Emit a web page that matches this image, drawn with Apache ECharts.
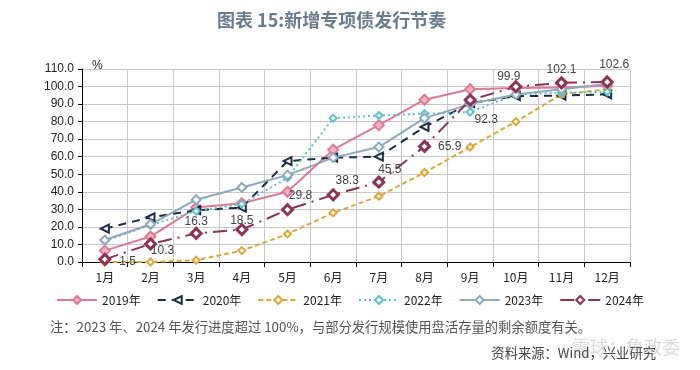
<!DOCTYPE html>
<html><head><meta charset="utf-8">
<script src="https://cdn.jsdelivr.net/npm/echarts@6/dist/echarts.min.js"></script>
<style>html,body{margin:0;padding:0;background:#fff;}#c{width:700px;height:370px;}</style>
</head><body><div id="c"></div>
<script>
const categories = ['1月','2月','3月','4月','5月','6月','7月','8月','9月','10月','11月','12月'];
const s2019 = [6.5, 14.5, 31, 33.5, 40, 64, 78, 92.5, 98.5, 99.2, 99.5, 100.5];
const s2020 = [19, 25.5, 29.5, 31, 57.5, 59.5, 60, 77, 90.5, 94.5, 94.8, 95.6];
const s2021 = [0, 0, 1, 6.5, 16, 28, 37.5, 51, 65.5, 80, 95.5, 98.5];
const s2022 = [12, 21, 29, 33, 48, 82, 83.5, 84.5, 85.5, 95.5, 96.5, 97];
const s2023 = [12.5, 21.5, 35.5, 42.5, 49.5, 59.5, 65.5, 82, 90, 95.5, 98.5, 101.5];
const s2024 = [1.5, 10.3, 16.3, 18.5, 29.8, 38.3, 45.5, 65.9, 92.3, 99.9, 102.1, 102.6];
const yTicks = ['0.0','10.0','20.0','30.0','40.0','50.0','60.0','70.0','80.0','90.0','100.0','110.0'];
const noteText = '注：2023 年、2024 年发行进度超过 100%，与部分发行规模使用盘活存量的剩余额度有关。';
const sourceText = '资料来源：Wind，兴业研究';

// label placement styles for 2024 series (style only)
const labelPos = ['right','bottom','top','top','top','top','top','right','bottom','top','top','top'];
const labelOff = [[8,2],[12,-6],[0,1],[0,4],[13,-2],[14,-2],[11,0],[7,0],[16,7],[-7,2],[0,-1],[7,-5]];

const chart = echarts.init(document.getElementById('c'), null, {renderer:'canvas'});
const F = 'Liberation Sans, Arial, sans-serif';
function mk(name, data, color, lineType, symbol, extra){
  return Object.assign({
    name, type:'line', data, symbol, symbolSize:8,
    lineStyle:{color, width:2, type:lineType},
    itemStyle:{color:'#fff', borderColor:color, borderWidth:2},
    emphasis:{disabled:true}
  }, extra||{});
}
const d2024 = s2024.map((v,i)=>({value:v, label:{show:true, position:labelPos[i], offset:labelOff[i], distance:0}}));
chart.setOption({
  animation:false,
  title:{text:'图表 15:新增专项债发行节奏', left:212, top:6,
    textStyle:{fontFamily:'Noto Sans CJK SC', fontSize:18, fontWeight:'bold', color:'#6b7b8e'}},
  grid:{left:82, right:70, top:69, bottom:108},
  legend:{top:289, left:'center', itemWidth:40, itemHeight:10, itemGap:16,
    textStyle:{fontFamily:'Noto Sans CJK SC', fontSize:12, color:'#222'},
    data:['2019年','2020年','2021年','2022年','2023年','2024年']},
  xAxis:{type:'category', data:categories, boundaryGap:true,
    axisLine:{lineStyle:{color:'#000', width:1}},
    axisTick:{show:true, alignWithLabel:false, lineStyle:{color:'#000'}, length:5},
    axisLabel:{fontFamily:'Noto Sans CJK SC', fontSize:12, color:'#222', margin:9},
    splitLine:{show:true, lineStyle:{color:'#c8c8c8'}}},
  yAxis:{type:'value', min:0, max:110, interval:10, name:'%', nameLocation:'end',
    nameGap:3, nameTextStyle:{fontFamily:F, fontSize:12, color:'#222', align:'left', verticalAlign:'middle', padding:[0,0,0,10]},
    axisLine:{show:true, lineStyle:{color:'#000'}},
    axisTick:{show:true, lineStyle:{color:'#000'}, length:4},
    axisLabel:{fontFamily:F, fontSize:12, color:'#222', formatter:(v)=>yTicks[Math.round(v/10)]},
    splitLine:{show:true, lineStyle:{color:'#c8c8c8'}}},
  series:[
    mk('2019年', s2019, '#e07896', 'solid', 'diamond', {itemStyle:{color:'#f3b3c5', borderColor:'#e07896', borderWidth:2}, symbolSize:10}),
    mk('2020年', s2020, '#1e2d45', [8,6], 'triangle', {symbolRotate:90, symbolSize:8}),
    mk('2021年', s2021, '#e0a53a', [5,3], 'diamond', {symbolSize:7}),
    mk('2022年', s2022, '#5cc3c9', [2,3], 'diamond', {symbolSize:7}),
    mk('2023年', s2023, '#8fa8bf', 'solid', 'diamond', {symbolSize:9}),
    mk('2024年', d2024, '#8c3457', [14,6,2,6], 'diamond', {symbolSize:10,
      itemStyle:{color:'#fff', borderColor:'#8c3457', borderWidth:3},
      label:{show:true, fontFamily:F, fontSize:12, color:'#444'}})
  ],
  graphic:[
    {type:'text', left:50, top:320, style:{text:noteText, font:'13.3px "Noto Sans CJK SC"', fill:'#555'}},
    {type:'text', right:44, top:346, style:{text:sourceText, font:'13.3px "Noto Sans CJK SC"', fill:'#444'}},
    {type:'text', right:20, top:338, style:{text:'雪球：鲁政委', font:'18px "Noto Sans CJK SC"', fill:'rgba(150,150,150,0.35)'}}
  ]
});
</script></body></html>
